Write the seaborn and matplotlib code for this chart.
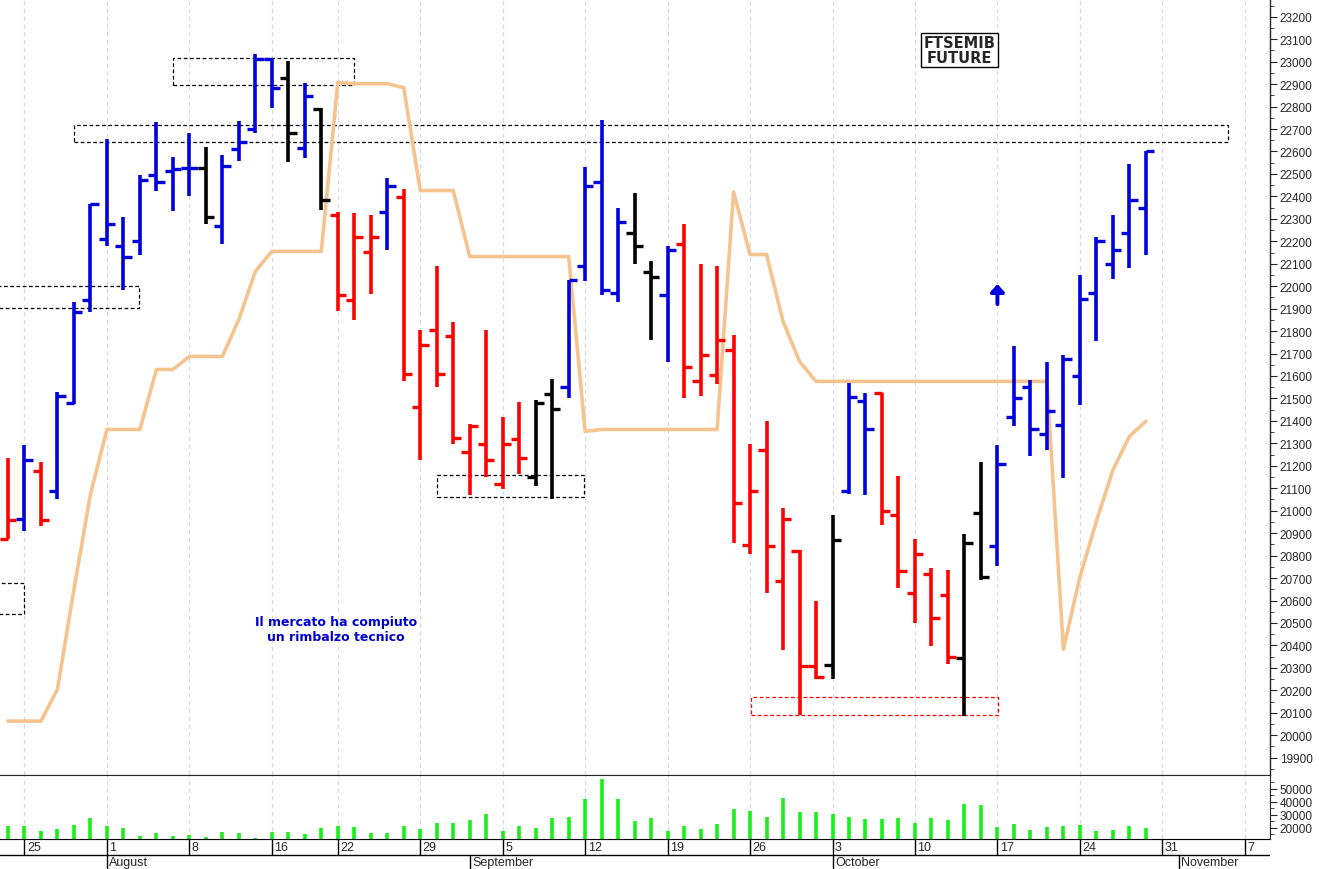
import numpy as np
import pandas as pd
import matplotlib
matplotlib.use("Agg")
import matplotlib.pyplot as plt
import seaborn as sns

# ---------------- data ----------------
opens  = [20873,20962,21175,21086,21478,21937,22208,22181,22199,22497,22515,22528,22528,22270,22613,22702,23013,22929,22617,22791,
          22319,21937,22154,22332,22395,21460,21807,21776,21260,21296,21118,21318,21149,21518,21549,22092,22466,21968,22239,22061,
          21959,22186,21576,21603,21718,20846,21269,20686,20820,20308,20312,21087,21487,21523,20980,20633,20717,20624,20343,20989,
          20842,21416,21549,21340,21380,21598,21968,22101,22239,22346]
highs  = [21233,21291,21216,21527,21928,22368,22657,22306,22497,22729,22577,22680,22622,22586,22737,23036,23013,23004,22907,22795,
          22332,22328,22315,22484,22435,21803,22088,21839,21385,21807,21416,21483,21492,21585,22026,22533,22742,22350,22417,22114,
          22177,22275,22097,22092,21781,21296,21398,21011,20824,20597,20980,21567,21523,21523,21153,20873,20744,20735,20895,21216,
          21291,21732,21580,21661,21692,22052,22221,22319,22546,22604]
lows   = [20873,20908,20931,21051,21474,21883,22177,21985,22137,22422,22333,22400,22275,22190,22559,22680,22795,22555,22573,22341,
          21888,21848,21963,22159,21576,21225,21549,21296,21069,21149,21096,21162,21109,21051,21500,22021,21959,21928,22101,21759,
          21661,21500,21509,21563,20855,20806,20633,20379,20090,20250,20250,21073,21069,20935,20655,20499,20397,20317,20085,20690,
          20753,21376,21242,21269,21144,21469,21754,22030,22083,22141]
closes = [20958,21224,20958,21509,21887,22364,22279,22128,22475,22462,22524,22528,22310,22537,22644,23013,22884,22684,22849,22382,
          21959,22217,22217,22448,21607,21736,21607,21322,21376,21225,21296,21233,21478,21451,22026,22448,21981,22288,22177,22039,
          22159,21638,21692,21759,21033,21087,20842,20962,20308,20259,20868,21505,21362,20998,20731,20806,20521,20348,20855,20704,
          21207,21500,21362,21443,21674,21945,22203,22159,22386,22604]
bar_colors = (["red","blue","red"] + ["blue"]*9 + ["black","blue","blue","blue","blue","black","blue","black"]
              + ["red","red","red","blue"] + ["red"]*8 + ["black","black"] + ["blue"]*4 + ["black","black","blue"]
              + ["red"]*9 + ["black","blue","blue"] + ["red"]*5 + ["black","black"] + ["blue"]*10)
volume = [21280,21280,17700,18980,22560,27680,21790,19740,13860,16160,13860,14620,13090,16930,15900,12580,16930,16930,15400,19740,
          21280,20770,15900,16420,21280,18980,24100,24100,26400,30750,17700,21790,20000,27680,28450,42000,57400,42500,25600,27680,
          17700,21540,18980,23070,34600,33060,28450,43300,32290,32290,30750,28450,27170,27170,27940,24100,27680,26400,38430,37660,
          21020,23070,18200,20510,21280,22560,17700,18460,21790,20000]
trend = [20063,20063,20063,20205,20650,21073,21362,21362,21362,21629,21629,21687,21687,21687,21852,22066,22155,22155,22155,22155,
         22907,22902,22902,22902,22884,22426,22426,22426,22132,22132,22132,22132,22132,22132,22132,21353,21362,21362,21362,21362,
         21362,21362,21362,21362,22420,22141,22141,21843,21665,21576,21576,21576,21576,21576,21576,21576,21576,21576,21576,21576,
         21576,21576,21576,21576,20383,20704,20953,21180,21331,21398]
day_labels = ["25","1","8","16","22","29","5","12","19","26","3","10","17","24","31","7"]
day_pos    = [1,6,11,16,20,25,30,35,40,45,50,55,60,65,70,75]
month_labels = ["August","September","October","November"]
month_pos    = [6,28,50,71]
price_ticks = list(range(19900, 23201, 100))
vol_ticks = [20000,30000,40000,50000]
boxes = [  # x0, x1, y0, y1, color
    (10.0, 21.0, 22898, 23018, "black"),
    (4.0, 74.0, 22644, 22720, "black"),
    (-0.6, 7.94, 21901, 22003, "black"),
    (-0.6, 0.97, 20539, 20677, "black"),
    (26.0, 34.9, 21060, 21158, "black"),
    (45.06, 60.04, 20090, 20170, "red"),
]

# ---------------- style ----------------
sns.set_style("white")
plt.rcParams['font.family'] = ['Liberation Sans', 'DejaVu Sans']
colmap = {"red": "#ff0000", "blue": "#0000dd", "black": "#000000"}

fig = plt.figure(figsize=(13.19, 8.70), dpi=100)
W, H = 1319, 870
XL = (-0.485, 76.53)
ax = fig.add_axes([0, 1 - 776 / H, 1270 / W, 776 / H])
axv = fig.add_axes([0, 1 - 840 / H, 1270 / W, 64 / H])
axd = fig.add_axes([0, 0, 1270 / W, 30 / H])

n = len(opens)
idx = np.arange(n)
df = pd.DataFrame({"i": idx, "trend": trend})

# grid
for a in (ax, axv):
    for p in day_pos:
        a.axvline(p, color="#d8d8e0", lw=0.8, ls=(0, (4, 3)), zorder=0)

# trend line
sns.lineplot(data=df, x="i", y="trend", ax=ax, color="#f5c48e", lw=2.6, zorder=2)

# OHLC bars
cols = [colmap[c] for c in bar_colors]
tk = 0.5
ax.vlines(idx, lows, highs, colors=cols, lw=2.6, zorder=3)
ax.hlines(opens, idx - tk, idx, colors=cols, lw=2.4, zorder=3)
ax.hlines(closes, idx, idx + tk, colors=cols, lw=2.4, zorder=3)

# boxes
for x0, x1, y0, y1, c in boxes:
    ax.plot([x0, x1, x1, x0, x0], [y0, y0, y1, y1, y0], color=c, lw=0.9, ls=(0, (3, 2)), zorder=1)

# texts
ax.text(57.7, 23053, "FTSEMIB\nFUTURE", ha="center", va="center", fontsize=10.5, fontweight="bold",
        family=["DejaVu Sans"], linespacing=1.0,
        bbox=dict(boxstyle="square,pad=0.15", fc="white", ec="black", lw=1))
ax.text(19.9, 20472, "Il mercato ha compiuto\nun rimbalzo tecnico", ha="center", va="center", fontsize=9,
        fontweight="bold", color="#0000cc", family=["DejaVu Sans"], linespacing=1.2)
ax.annotate("", xy=(60, 22010), xytext=(60, 21920),
            arrowprops=dict(arrowstyle="-|>,head_width=0.4,head_length=0.45", color="#0000dd", lw=2.8,
                            mutation_scale=10, shrinkA=0, shrinkB=0))

ax.set_xlim(*XL)
ax.set_ylim(19823, 23279)
ax.yaxis.tick_right()
ax.set_yticks(price_ticks)
ax.set_yticklabels([str(t) for t in price_ticks], fontsize=8.5)
ax.set_yticks(np.arange(19850, 23279, 100), minor=True)
ax.tick_params(axis="y", which="major", length=5, direction="out", pad=2)
ax.tick_params(axis="y", which="minor", length=3, direction="out")
ax.set_xticks([])
ax.set_xlabel(""); ax.set_ylabel("")
for s in ["top", "left"]:
    ax.spines[s].set_visible(False)
ax.spines["bottom"].set_visible(True)
ax.spines["right"].set_linewidth(1)

# volume
axv.vlines(idx, 11500, volume, colors="#19f019", lw=2.6)
axv.set_xlim(*XL)
axv.set_ylim(11500, 60770)
axv.yaxis.tick_right()
axv.set_yticks(vol_ticks)
axv.set_yticklabels([str(t) for t in vol_ticks], fontsize=8.5)
axv.set_yticks(np.arange(15000, 60000, 5000), minor=True)
axv.tick_params(axis="y", which="major", length=5, pad=2)
axv.tick_params(axis="y", which="minor", length=3)
axv.set_xticks([])
axv.spines["left"].set_visible(False)
axv.spines["top"].set_visible(True)

# date axis
axd.set_xlim(*XL)
axd.set_ylim(0, 30)
axd.axis("off")
axd.axhline(14, color="black", lw=1)
axd.axhline(30, color="black", lw=1.5)
for p, l in zip(day_pos, day_labels):
    axd.vlines(p, 14, 30, color="black", lw=1)
    axd.text(p + 0.15, 22, l, ha="left", va="center", fontsize=9)
for p, l in zip(month_pos, month_labels):
    axd.vlines(p, 0, 14, color="black", lw=1)
    axd.text(p + 0.15, 6.5, l, ha="left", va="center", fontsize=9)

fig.savefig("out.png", dpi=100)
